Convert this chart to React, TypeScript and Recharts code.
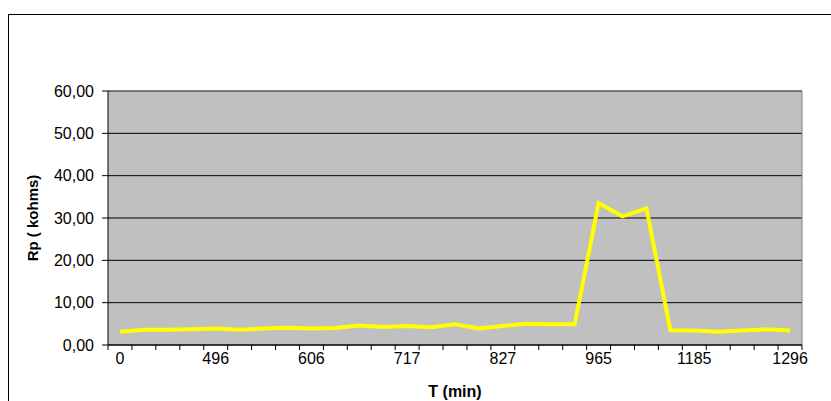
import { LineChart, Line, XAxis, YAxis, CartesianGrid, ReferenceLine } from "recharts";

// sample times (min); only every 4th one is printed on the axis
const times = [
  0, 413, 441, 468, 496, 523, 551, 578, 606, 634, 661, 689, 717, 744, 772,
  799, 827, 862, 896, 931, 965, 1020, 1075, 1130, 1185, 1213, 1241, 1268, 1296,
];

// Rp in kohms
const rp = [
  3.15, 3.6, 3.6, 3.7, 3.9, 3.6, 3.9, 4.1, 3.9, 4.0, 4.6, 4.25, 4.5, 4.2, 4.9,
  3.9, 4.5, 5.0, 4.9, 4.9, 33.5, 30.4, 32.3, 3.5, 3.4, 3.15, 3.4, 3.7, 3.4,
];

const yTicks = [0, 10, 20, 30, 40, 50, 60];
const labelEvery = 4;

const FONT = "'Liberation Sans', Arial, sans-serif";

const data = times.map((t, i) => ({ idx: i, t, rp: rp[i] }));

// tick marks sit between categories, labels sit on every 4th category
const xTicks: number[] = [];
for (let i = 0; i <= times.length; i++) xTicks.push(i - 0.5);
for (let i = 0; i < times.length; i += labelEvery) xTicks.push(i);

function XTick(props: any) {
  const { x, y, payload } = props;
  const v = payload.value as number;
  if (Number.isInteger(v)) {
    return (
      <text x={x} y={y + 19} textAnchor="middle" fontSize={16} fontFamily={FONT} fill="#000">
        {times[v]}
      </text>
    );
  }
  return <line x1={x} x2={x} y1={y} y2={y + 5} stroke="#000" strokeWidth={1} />;
}

function YTitle(props: any) {
  const { viewBox } = props;
  const cx = viewBox.x + 23;
  const cy = viewBox.y + viewBox.height / 2;
  return (
    <text
      x={cx}
      y={cy}
      transform={`rotate(-90 ${cx} ${cy})`}
      textAnchor="middle"
      dominantBaseline="central"
      fontSize={15}
      fontWeight="bold"
      fontFamily={FONT}
    >
      Rp ( kohms)
    </text>
  );
}

function XTitle(props: any) {
  const { viewBox } = props;
  const cx = viewBox.x + viewBox.width / 2;
  return (
    <text
      x={cx}
      y={viewBox.y + 46}
      textAnchor="middle"
      dominantBaseline="central"
      fontSize={16}
      fontWeight="bold"
      fontFamily={FONT}
    >
      T (min)
    </text>
  );
}

export default function App() {
  return (
    <div
      style={{
        position: "absolute",
        left: 8,
        top: 14,
        width: 823,
        height: 387,
        borderTop: "1px solid #000",
        borderLeft: "1px solid #000",
        boxSizing: "border-box",
        fontFamily: FONT,
      }}
    >
      <LineChart
        width={822}
        height={386}
        data={data}
        margin={{ top: 76, right: 29, bottom: 0, left: 0 }}
      >
        <CartesianGrid horizontal vertical={false} stroke="#000" fill="#C0C0C0" fillOpacity={1} />
        <XAxis
          dataKey="idx"
          type="number"
          domain={[-0.5, times.length - 0.5]}
          ticks={xTicks}
          interval={0}
          height={56}
          tickLine={false}
          tickSize={0}
          tickMargin={0}
          tick={<XTick />}
          axisLine={{ stroke: "#000" }}
          label={<XTitle />}
        />
        <YAxis
          domain={[0, 60]}
          ticks={yTicks}
          interval={0}
          width={99}
          tickSize={6}
          tickMargin={8}
          tickLine={{ stroke: "#000" }}
          axisLine={{ stroke: "#000" }}
          tick={{ fill: "#000", fontSize: 16, fontFamily: FONT }}
          tickFormatter={(v: number) => v.toFixed(2).replace(".", ",")}
          label={<YTitle />}
        />
        <ReferenceLine y={60} stroke="#808080" />
        <ReferenceLine x={times.length - 0.5} stroke="#808080" />
        <Line
          type="linear"
          dataKey="rp"
          stroke="#FFFF00"
          strokeWidth={4}
          dot={false}
          isAnimationActive={false}
        />
      </LineChart>
    </div>
  );
}
